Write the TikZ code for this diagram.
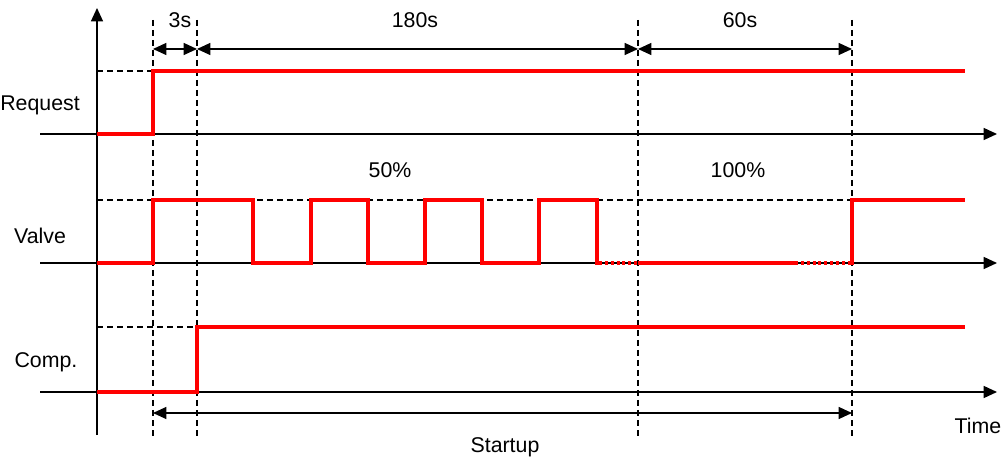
\documentclass[tikz,border=0pt]{standalone}
\usepackage{fontspec}
\setmainfont{Liberation Sans}
\usetikzlibrary{arrows.meta}
\begin{document}
\begin{tikzpicture}[x=0.75pt,y=-0.75pt,
  axis/.style={line width=1pt,-{Triangle[length=10pt,width=9pt]}},
  guide/.style={line width=0.9pt,dash pattern=on 4.5pt off 3pt},
  sig/.style={red,line width=2.3pt},
  sigdot/.style={red,line width=2.3pt,dash pattern=on 2.2pt off 2.2pt},
  dim/.style={line width=0.9pt,{Triangle[length=10pt,width=9pt]}-{Triangle[length=10pt,width=9pt]}},
  lbl/.style={font=\fontsize{16}{18}\selectfont,inner sep=0pt}]
\useasboundingbox (0,0) rectangle (1003,459);
% axes
\coordinate (yb) at (97,435); \coordinate (yt) at (97,8);
\draw[axis] (yb) -- (yt);
\foreach \n/\y in {r/134,v/263,c/392}{
  \coordinate (\n0) at (40,\y); \coordinate (\n1) at (997,\y);
  \draw[axis] (\n0) -- (\n1);
}
% vertical guides
\foreach \n/\x in {a/153,b/197,c/638,d/852}{
  \coordinate (g\n t) at (\x,20); \coordinate (g\n b) at (\x,438);
  \draw[guide] (g\n t) -- (g\n b);
}
% horizontal guides
\draw[guide] (97,71) -- (153,71);
\draw[guide] (97,200) -- (965,200);
\draw[guide] (97,327) -- (197,327);
% dimension arrows
\coordinate (d1) at (153,49); \coordinate (d2) at (197,49);
\coordinate (d3) at (638,49); \coordinate (d4) at (852,49);
\draw[dim] (d1) -- (d2);
\draw[dim] (d2) -- (d3);
\draw[dim] (d3) -- (d4);
\node[lbl] (t3) at (180,20) {3s};
\node[lbl] (t180) at (415,20) {180s};
\node[lbl] (t60) at (740,20) {60s};
\coordinate (s1) at (153,413); \coordinate (s2) at (852,413);
\draw[dim] (s1) -- (s2);
\node[lbl] (su) at (505,447) {Startup};
\node[lbl] (time) at (978,426) {Time};
% labels
\node[lbl] (lr) at (40,105) {Request};
\node[lbl] (lv) at (40,236) {Valve};
\node[lbl] (lc) at (46,362) {Comp.};
\node[lbl] (p50) at (390,170) {50\%};
\node[lbl] (p100) at (738,170) {100\%};
% signals
\draw[sig] (97,134) -- (153,134) -- (153,71) -- (965,71);
\draw[sig] (97,263) -- (153,263) -- (153,200) -- (253,200) -- (253,263) -- (311,263)
  -- (311,200) -- (368,200) -- (368,263) -- (425,263) -- (425,200) -- (482,200)
  -- (482,263) -- (539,263) -- (539,200) -- (597,200) -- (597,263) -- (599,263);
\draw[sigdot] (599,263) -- (638,263);
\draw[sig] (638,263) -- (795,263);
\draw[sigdot] (795,263) -- (850,263);
\draw[sig] (850,263) -- (852,263) -- (852,200) -- (965,200);
\draw[sig] (97,392) -- (197,392) -- (197,327) -- (965,327);
\end{tikzpicture}
\end{document}
